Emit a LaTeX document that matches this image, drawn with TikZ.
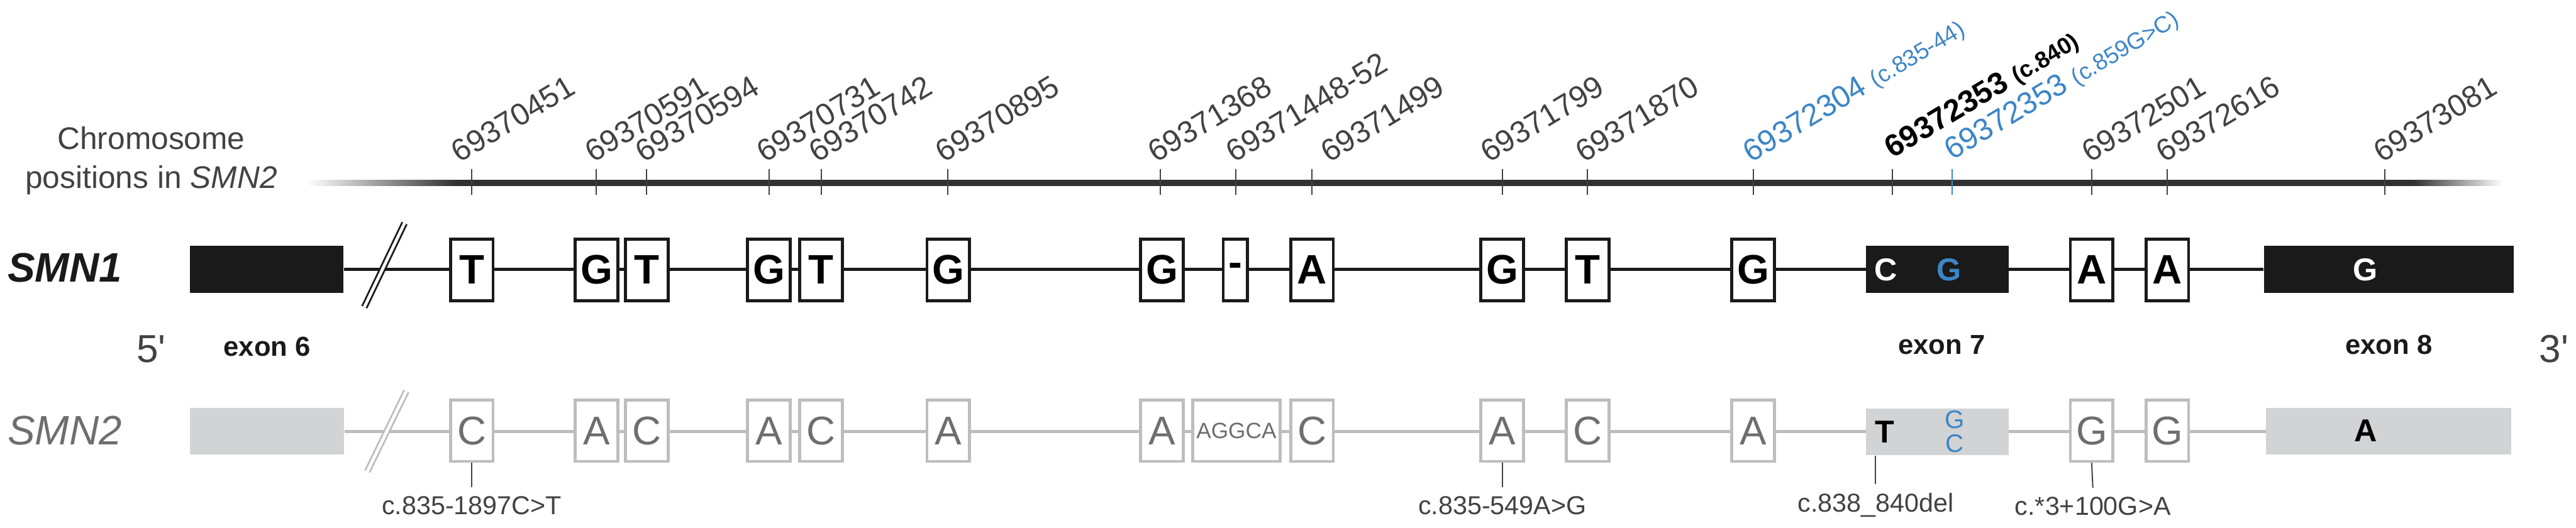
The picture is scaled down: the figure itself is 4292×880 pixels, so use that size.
\documentclass[tikz,border=0pt]{standalone}
\usepackage{fontspec}
\setmainfont{Liberation Sans}
\usetikzlibrary{backgrounds}
\definecolor{ink}{HTML}{1A1A1A}
\definecolor{txtgray}{HTML}{424242}
\definecolor{smnline}{HTML}{BDBDBD}
\definecolor{smnfill}{HTML}{D1D3D4}
\definecolor{smntext}{HTML}{6D6E71}
\definecolor{varblue}{HTML}{3D85C6}

\begin{document}
\begin{tikzpicture}[x=0.01cm, y=-0.01cm,
    nt1/.style={draw=ink, line width=1.42pt, fill=white, minimum width=0.71cm, minimum height=1.02cm, inner sep=0pt, font=\fontsize{19.5}{20}\selectfont\bfseries},
    nt2/.style={draw=smnline, line width=1.42pt, fill=white, minimum width=0.71cm, minimum height=1.02cm, inner sep=0pt, text=smntext, font=\fontsize{19}{19}\selectfont},
    exon1/.style={fill=ink, minimum height=0.78cm, inner sep=0pt},
    exon2/.style={fill=smnfill, minimum height=0.77cm, inner sep=0pt},
    exlet/.style={inner sep=0pt, font=\fontsize{15}{16}\selectfont\bfseries},
    exname/.style={inner sep=0pt, text=ink, font=\fontsize{13}{14}\selectfont\bfseries},
    poslab/.style={rotate=31, anchor=base west, inner sep=0pt, text=txtgray, font=\fontsize{14.6}{16}\selectfont},
    axtick/.style={txtgray, line width=0.6pt},
    vlabel/.style={anchor=north, inner sep=0pt, outer ysep=0.15cm, text=txtgray, font=\fontsize{12.3}{14}\selectfont},
    vline/.style={txtgray, line width=0.6pt}
  ]
  \useasboundingbox (0,0) rectangle (4292,880);

  % chromosome axis
  \node[align=center, text=txtgray, font=\fontsize{14.8}{18.5}\selectfont] (chrom) at (252,268) {Chromosome\\positions in \textit{SMN2}};
  \shade[left color=white, right color=ink!90] (512,300) rectangle (760,310);
  \fill[ink!90] (760,300) rectangle (4022,310);
  \shade[left color=ink!90, right color=white] (4022,300) rectangle (4170,310);
  \foreach \tx/\lx/\lab [count=\i] in {786/765/69370451, 993/988/69370591, 1077/1072/69370594,
      1282/1274/69370731, 1368/1361/69370742, 1579/1572/69370895, 1933/1926/69371368,
      2059/2056/69371448-52, 2186/2214/69371499, 2503/2480/69371799, 2645/2638/69371870,
      3485/3482/69372501, 3611/3606/69372616, 3973/3968/69373081} {
    \draw[axtick] (\tx,282) -- (\tx,325);
    \node[poslab] (pos\i) at (\lx,272) {\lab};
  }
  \draw[axtick] (2921,282) -- (2921,325);
  \node[poslab, text=varblue] (pos15) at (2917,272) {69372304 {\fontsize{11}{12}\selectfont (c.835-44)}};
  \draw[axtick] (3153,282) -- (3153,325);
  \node[poslab, text=black, font=\fontsize{14.6}{16}\selectfont\bfseries] (pos16) at (3153,265) {69372353 {\fontsize{11}{12}\selectfont (c.840)}};
  \draw[axtick, varblue] (3252,282) -- (3252,325);
  \node[poslab, text=varblue] (pos17) at (3252,268) {69372353 {\fontsize{11}{12}\selectfont (c.859G>C)}};

  % gene names and ends
  \node[font=\fontsize{19.5}{20}\selectfont\bfseries\itshape, text=ink] (smn1) at (108,446) {SMN1};
  \node[font=\fontsize{19.5}{20}\selectfont\itshape, text=smntext] (smn2) at (108,718) {SMN2};
  \node[font=\fontsize{18.5}{20}\selectfont, text=txtgray] (five) at (252,582) {5\textquotesingle};
  \node[font=\fontsize{18.5}{20}\selectfont, text=txtgray] (three) at (4255,582) {3\textquotesingle};

  % exons
  \node[exon1, minimum width=2.56cm] (ex6a) at (444,449) {};
  \node[exon1, minimum width=2.38cm] (ex7a) at (3228,449) {};
  \node[exon1, minimum width=4.16cm] (ex8a) at (3980,449) {};
  \node[exon2, minimum width=2.57cm] (ex6b) at (445,719) {};
  \node[exon2, minimum width=2.38cm] (ex7b) at (3228,720) {};
  \node[exon2, minimum width=4.08cm] (ex8b) at (3980,719) {};
  \node[exlet, text=white] (ex7ac) at (3142,450) {C};
  \node[exlet, text=varblue] (ex7ag) at (3247,450) {G};
  \node[exlet, text=white] (ex8ag) at (3941,450) {G};
  \node[exlet, text=black] (ex7bt) at (3140,720) {T};
  \node[inner sep=0pt, text=varblue, font=\fontsize{12}{12}\selectfont] (ex7bg) at (3257,700) {G};
  \node[inner sep=0pt, text=varblue, font=\fontsize{12}{12}\selectfont] (ex7bc) at (3257,739) {C};
  \node[exlet, text=black] (ex8ba) at (3942,718) {A};
  \node[exname] (lab6) at (445,578) {exon 6};
  \node[exname] (lab7) at (3235,575) {exon 7};
  \node[exname] (lab8) at (3980,575) {exon 8};

  % nucleotide differences
  \foreach \x/\a/\b [count=\i] in {786/T/C, 994/G/A, 1078/T/C, 1281/G/A, 1368/T/C, 1580/G/A, 1936/G/A,
      2186/A/C, 2503/G/A, 2645/T/C, 2921/G/A, 3485/A/G, 3611/A/G} {
    \node[nt1] (a\i) at (\x,450) {\a};
    \node[nt2] (b\i) at (\x,718) {\b};
  }
  \node[nt1, minimum width=0.40cm] (adel) at (2058,450) {-};
  \node[nt2, minimum width=1.45cm, font=\fontsize{10.5}{12}\selectfont] (bins) at (2060,718) {AGGCA};

  \begin{scope}[on background layer]
    \draw[ink, line width=1.42pt] (ex6a.east) -- (ex8a.west);
    \draw[smnline, line width=1.42pt] (ex6b.east) -- (ex8b.west);
  \end{scope}
  \draw[ink, line width=0.85pt, double=white, double distance=0.05cm] (607,512) -- (674,372);
  \draw[smnline, line width=0.85pt, double=white, double distance=0.05cm] (612,786) -- (677,652);

  % variants
  \node[vlabel] (v1) at (786,812) {c.835-1897C>T};
  \node[vlabel] (v2) at (2503,812) {c.835-549A>G};
  \node[vlabel] (v3) at (3125,807) {c.838\_840del};
  \node[vlabel] (v4) at (3487,813) {c.*3+100G>A};
  \draw[vline] (b1.south) -- (v1.north);
  \draw[vline] (b9.south) -- (v2.north);
  \draw[vline] (ex7b.south -| v3.north) -- (v3.north);
  \draw[vline] (b12.south) -- (v4.north);
\end{tikzpicture}
\end{document}
